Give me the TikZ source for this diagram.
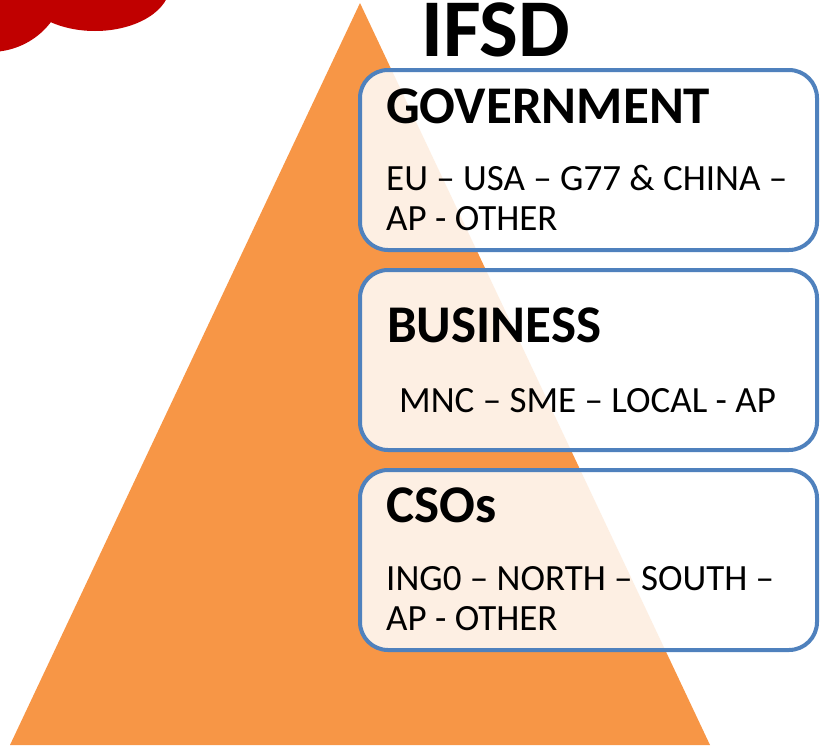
\documentclass[tikz,border=0pt]{standalone}
\usepackage{fontspec}
\setmainfont{Carlito}
\definecolor{tri}{HTML}{F79646}
\definecolor{cloudred}{HTML}{C00000}
\definecolor{boxblue}{HTML}{4F81BD}
\begin{document}
\begin{tikzpicture}[x=1pt,y=-1pt,
  box/.style={draw=boxblue, line width=4pt, rounded corners=28pt, fill=white, fill opacity=0.85, text opacity=1, minimum width=457pt, minimum height=180pt, inner sep=0pt},
  title/.style={anchor=base west, inner sep=0pt, font=\fontsize{53}{60}\selectfont\bfseries},
  body/.style={anchor=base west, inner sep=0pt, font=\fontsize{37}{40}\selectfont, align=left}]
\useasboundingbox (0,0) rectangle (821,747);
\begin{scope}
\clip (0,0) rectangle (821,747);
\fill[cloudred] (-10,-20) ellipse [x radius=75, y radius=72];
\fill[cloudred] (95,-15) ellipse [x radius=75, y radius=46];
\end{scope}
\fill[tri] (360,3) -- (710,745) -- (10,745) -- cycle;
\node[anchor=base west, inner sep=0pt, font=\fontsize{82}{90}\selectfont\bfseries] (ifsd) at (421,56) {IFSD};
\node[box] (gov) at (588.5,160) {};
\node[box] (bus) at (588.5,360) {};
\node[box] (cso) at (588.5,560) {};
\node[title] (govt) at (386,123) {GOVERNMENT};
\node[body] (govb) at (386,230) {EU – USA – G77 \& CHINA –\\AP - OTHER};
\node[title] (bust) at (387,342) {BUSINESS};
\node[body] (busb) at (399,412) {MNC – SME – LOCAL - AP};
\node[title] (csot) at (386,522) {CSOs};
\node[body] (csob) at (386,630) {ING0 – NORTH – SOUTH –\\AP - OTHER};
\end{tikzpicture}
\end{document}
